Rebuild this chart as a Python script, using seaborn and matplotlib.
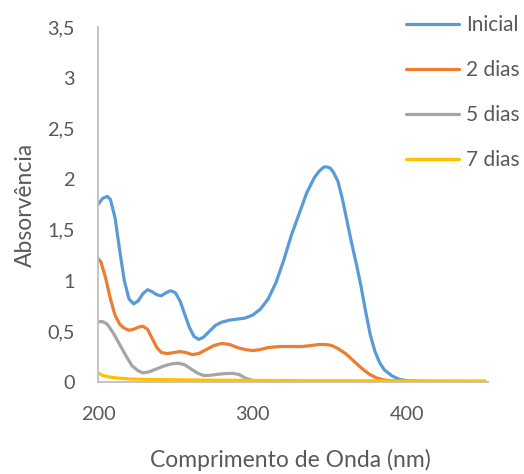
import matplotlib
matplotlib.use("Agg")
import matplotlib.pyplot as plt
import seaborn as sns
import pandas as pd

# ---- data ----
wl_inicial = [200, 203, 206, 208, 211, 214, 217, 220, 223, 226, 229, 232, 235, 238, 241, 244, 247, 250,
              253, 256, 259, 262, 265, 268, 272, 276, 280, 285, 290, 295, 300, 305, 310, 315, 320, 325,
              330, 335, 340, 343, 346, 348, 350, 352, 355, 358, 361, 364, 367, 370, 373, 376, 379, 382,
              385, 390, 395, 400, 410, 420, 450]
abs_inicial = [1.75, 1.81, 1.83, 1.80, 1.62, 1.30, 1.00, 0.82, 0.77, 0.80, 0.87, 0.91, 0.89, 0.86, 0.85, 0.88, 0.90, 0.88,
               0.80, 0.67, 0.54, 0.45, 0.42, 0.44, 0.50, 0.56, 0.59, 0.61, 0.62, 0.63, 0.66, 0.72, 0.82, 0.98, 1.20, 1.45,
               1.66, 1.87, 2.02, 2.08, 2.12, 2.12, 2.11, 2.07, 1.98, 1.80, 1.58, 1.36, 1.16, 0.94, 0.69, 0.46, 0.30, 0.19,
               0.12, 0.06, 0.025, 0.012, 0.005, 0.003, 0.002]

wl_2dias = [200, 202, 205, 208, 211, 214, 217, 220, 223, 226, 229, 232, 235, 238, 241, 245, 249, 253, 257, 261,
            265, 270, 275, 280, 285, 290, 295, 300, 305, 310, 318, 325, 332, 338, 343, 347, 351, 355, 360, 365,
            370, 375, 380, 385, 390, 400, 450]
abs_2dias = [1.22, 1.18, 1.02, 0.82, 0.66, 0.57, 0.53, 0.51, 0.52, 0.54, 0.55, 0.52, 0.43, 0.34, 0.29, 0.28, 0.29, 0.30, 0.29, 0.27,
             0.28, 0.32, 0.36, 0.38, 0.37, 0.34, 0.32, 0.31, 0.32, 0.34, 0.35, 0.35, 0.35, 0.36, 0.37, 0.37, 0.36, 0.33, 0.28, 0.21,
             0.14, 0.08, 0.04, 0.02, 0.01, 0.005, 0.003]

wl_5dias = [200, 203, 206, 210, 214, 218, 222, 226, 229, 233, 238, 243, 248, 252, 256, 260, 264, 268, 272, 277,
            282, 287, 291, 295, 300, 305, 450]
abs_5dias = [0.595, 0.595, 0.57, 0.48, 0.37, 0.26, 0.16, 0.11, 0.09, 0.10, 0.13, 0.16, 0.18, 0.185, 0.17, 0.13, 0.09, 0.065, 0.065, 0.075,
             0.083, 0.085, 0.075, 0.04, 0.015, 0.008, 0.005]

wl_7dias = [200, 203, 207, 212, 220, 235, 260, 300, 350, 400, 450]
abs_7dias = [0.09, 0.065, 0.05, 0.04, 0.03, 0.025, 0.02, 0.015, 0.012, 0.01, 0.01]

series_names = ["Inicial", "2 dias", "5 dias", "7 dias"]
colors = ["#5B9BD5", "#ED7D31", "#A5A5A5", "#FFC000"]
y_ticks = [0, 0.5, 1, 1.5, 2, 2.5, 3, 3.5]
y_tick_labels = ["0", "0,5", "1", "1,5", "2", "2,5", "3", "3,5"]
x_ticks = [200, 300, 400]
x_tick_labels = ["200", "300", "400"]

# ---- plot ----
sns.set_theme(style="white")
plt.rcParams["font.family"] = ["Lato", "DejaVu Sans"]
txt = "#595959"
fs = 14.3
fs_title = 16.5
fs_leg = 15

fig = plt.figure(figsize=(5.24, 4.74), dpi=100)
ax = fig.add_axes([98 / 524, 1 - 382 / 474, (488 - 98) / 524, (382 - 27) / 474])

data = [(wl_inicial, abs_inicial), (wl_2dias, abs_2dias), (wl_5dias, abs_5dias), (wl_7dias, abs_7dias)]
for (wl, ab), name, c in zip(data, series_names, colors):
    df = pd.DataFrame({"wl": wl, "abs": ab})
    sns.lineplot(data=df, x="wl", y="abs", ax=ax, color=c, linewidth=2.3, label=name)

ax.set_xlim(200, 452)
ax.set_ylim(0, 3.5)
ax.set_xticks(x_ticks)
ax.set_xticklabels(x_tick_labels)
ax.set_yticks(y_ticks)
ax.set_yticklabels(y_tick_labels)
ax.tick_params(axis="both", length=0, labelsize=fs, labelcolor=txt, pad=17)
for s in ["top", "right"]:
    ax.spines[s].set_visible(False)
for s in ["left", "bottom"]:
    ax.spines[s].set_color("#BFBFBF")
    ax.spines[s].set_linewidth(1.3)

ax.set_xlabel("Comprimento de Onda (nm)", fontsize=fs_title, color=txt)
ax.set_ylabel("Absorvência", fontsize=fs_title, color=txt)
ax.xaxis.set_label_coords((290 - 98) / 390, -(460 - 382) / 355, transform=ax.transAxes)
ax.yaxis.set_label_coords(-(98 - 25) / 390, (382 - 205) / 355, transform=ax.transAxes)
ax.xaxis.label.set_verticalalignment("center")
ax.yaxis.label.set_verticalalignment("center")

ax.get_legend().remove()
handles, labels = ax.get_legend_handles_labels()
leg = fig.legend(handles, labels, loc="upper left", bbox_to_anchor=(398 / 524, 1 - 7 / 474),
                 frameon=False, fontsize=fs_leg, labelcolor=txt, handlelength=2.55,
                 handletextpad=0.3, labelspacing=1.2, borderaxespad=0)

fig.savefig("out.png", dpi=100)
